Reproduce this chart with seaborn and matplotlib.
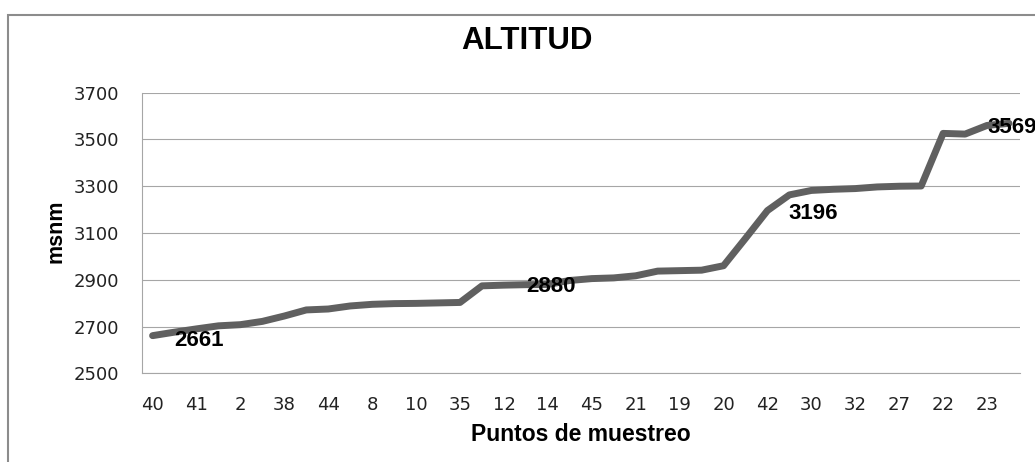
import numpy as np
import pandas as pd
import matplotlib
matplotlib.use('Agg')
import matplotlib.pyplot as plt
import seaborn as sns
from matplotlib.patches import Rectangle

# puntos de muestreo (solo se rotula uno de cada dos en el eje)
puntos = ["40", "41", "2", "38", "44", "8", "10", "35", "12", "14",
          "45", "21", "19", "20", "42", "30", "32", "27", "22", "23"]
altitud = [2661, 2676, 2690, 2703, 2708, 2722, 2745, 2771, 2775, 2788,
           2795, 2798, 2799, 2801, 2803, 2874, 2877, 2879, 2880, 2897,
           2905, 2908, 2917, 2937, 2939, 2941, 2960, 3077, 3196, 3263,
           3282, 3287, 3290, 3297, 3300, 3301, 3526, 3523, 3560, 3569]
rotulados = [0, 18, 28, 39]

W, H = 1035, 462
sns.set_style('white')
plt.rcParams['font.family'] = ['DejaVu Sans']

fig = plt.figure(figsize=(W / 100, H / 100), dpi=100)
ax = fig.add_axes([141.6 / W, 88.7 / H, 878.4 / W, 280.6 / H])

df = pd.DataFrame({'pos': np.arange(len(altitud)), 'altitud': altitud})
sns.lineplot(data=df, x='pos', y='altitud', ax=ax, color='#606060',
             linewidth=5, solid_capstyle='round', solid_joinstyle='round')

ax.set_xlim(-0.5, len(altitud) - 0.5)
ax.set_ylim(2500, 3700)
ax.set_yticks(range(2500, 3701, 200))
ax.set_xticks(np.arange(0, len(altitud), 2))
ax.set_xticklabels(puntos)
ax.set_xlabel('')
ax.set_ylabel('')
ax.grid(axis='y', color='#a6a6a6', lw=0.8)
ax.set_axisbelow(True)
for s in ['top', 'right']:
    ax.spines[s].set_visible(False)
for s in ['left', 'bottom']:
    ax.spines[s].set_color('#a6a6a6')
    ax.spines[s].set_linewidth(0.8)
ax.tick_params(length=0, pad=16, labelsize=13, labelcolor='#222222')

# etiquetas de datos (desplazamientos en pixeles)
offs = [(46, -10.4), (3, -7.8), (45.5, -8), (3, -9.3)]
for i, (dx, dy) in zip(rotulados, offs):
    ax.annotate(str(altitud[i]), (i, altitud[i]), xytext=(dx * 0.72, dy * 0.72),
                textcoords='offset points', ha='center', va='baseline',
                family='Liberation Sans', weight='bold', fontsize=16,
                color='black', annotation_clip=False)

fig.text(526.5 / W, 1 - 49.3 / H, 'ALTITUD', ha='center', va='baseline',
         family='Liberation Sans', weight='bold', fontsize=22.5, color='black')
fig.text(581 / W, 1 - 440.7 / H, 'Puntos de muestreo', ha='center',
         va='baseline', family='Liberation Sans', weight='bold', fontsize=16.5,
         color='black')
fig.text(61.7 / W, 1 - 231.5 / H, 'msnm', rotation=90, rotation_mode='anchor',
         ha='center', va='baseline', family='Liberation Sans', weight='bold',
         fontsize=15.5, color='black')

fig.add_artist(Rectangle((8 / W, -0.1), 1.2, 1 - 15 / H + 0.1,
                         transform=fig.transFigure, fill=False,
                         edgecolor='#8c8c8c', lw=1.5))

fig.savefig('out.png', dpi=100)
